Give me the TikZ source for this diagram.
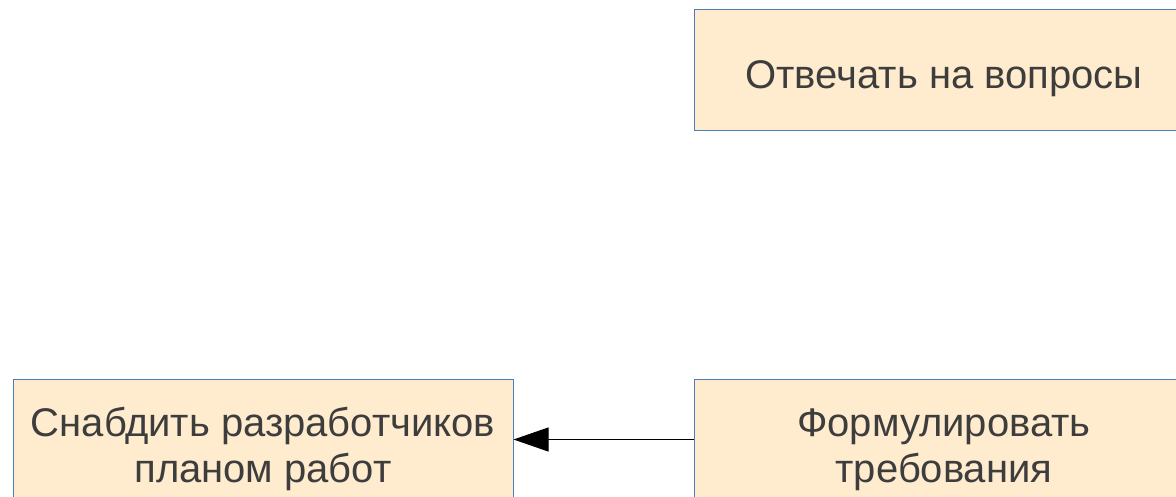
\documentclass[tikz,border=0pt]{standalone}
\usepackage{fontspec}
\setmainfont{Liberation Sans}
\usetikzlibrary{arrows.meta}
\definecolor{boxfill}{HTML}{FFEBCD}
\definecolor{boxline}{HTML}{4A7EBB}
\definecolor{txt}{HTML}{3D3D3D}
\begin{document}
\begin{tikzpicture}[x=1pt,y=-1pt,
  box/.style={draw=boxline,line width=1pt,fill=boxfill,minimum width=500pt,minimum height=121pt,inner sep=0pt},
  lbl/.style={inner sep=0pt,align=center,text=txt,anchor=base,font=\fontsize{40}{46}\selectfont},
  conn/.style={line width=1pt,draw=black,-{Triangle[length=35pt,width=24pt]}}]
\useasboundingbox (0,0) rectangle (1176,496);
\clip (0,0) rectangle (1176,496);
\node[box] (answer) at (944,69.5) {};
\node[box] (plan) at (263,439.5) {};
\node[box] (form) at (944,439.5) {};
\node[lbl] (answert) at (944,88.5) {Отвечать на вопросы};
\node[lbl] (plant) at (263,482) {Снабдить разработчиков\\планом работ};
\node[lbl] (formt) at (944,482) {Формулировать\\требования};
\draw[conn] (form.west) -- (plan.east);
\end{tikzpicture}
\end{document}
